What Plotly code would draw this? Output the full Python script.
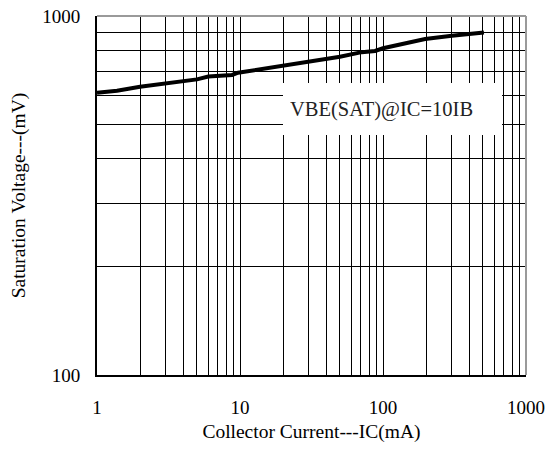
import plotly.graph_objects as go

# Data
ic_ma = [1, 1.38, 2, 3, 5, 6, 8.8, 9.7, 15, 20.6, 30, 39.3, 50, 71, 88, 100, 150, 197, 303, 407, 508]
vbe_mv = [611, 619, 635, 649, 666, 678, 685, 695, 714, 730, 745, 759, 770, 793, 799, 813, 840, 863, 881, 891, 899]

x_grid = [m * 10 ** d for d in range(3) for m in range(1, 10)] + [1000]
x_labels = ["1", "10", "100", "1000"]
x_text = [str(int(v)) if str(int(v)) in x_labels else "" for v in x_grid]
y_grid = [100, 200, 300, 400, 500, 600, 700, 800, 900, 1000]
y_labels = ["100", "1000"]
y_text = [str(v) if str(v) in y_labels else "" for v in y_grid]

label_text = "VBE(SAT)@IC=10IB"
x_title = "Collector Current---IC(mA)"
y_title = "Saturation Voltage---(mV)"

FONT = "Liberation Serif"

fig = go.Figure()
fig.add_trace(go.Scatter(
    x=ic_ma, y=vbe_mv, mode="lines",
    line=dict(color="black", width=4),
    showlegend=False, hoverinfo="skip",
))

fig.update_layout(
    width=547, height=452,
    margin=dict(l=97, r=21, t=16, b=77),
    paper_bgcolor="white", plot_bgcolor="white",
    font=dict(family=FONT, size=19, color="black"),
    xaxis=dict(
        type="log", range=[0, 3], automargin=False,
        tickvals=x_grid, ticktext=x_text,
        showgrid=True, gridcolor="black", gridwidth=1,
        showline=True, linecolor="black", linewidth=2,
        ticks="", ticklabelstandoff=14,
        zeroline=False,
        title=dict(text=x_title, font=dict(size=19.5), standoff=8),
    ),
    yaxis=dict(
        type="log", range=[2, 3], automargin=False,
        tickvals=y_grid, ticktext=y_text,
        showgrid=True, gridcolor="black", gridwidth=1,
        showline=True, linecolor="black", linewidth=2,
        ticks="", ticklabelstandoff=11,
        zeroline=False,
        title=dict(text=y_title, font=dict(size=19.5), standoff=11),
    ),
    shapes=[
        dict(type="line", xref="paper", yref="paper", x0=0, x1=1, y0=1, y1=1,
             line=dict(color="#9a9a9a", width=2)),
        dict(type="line", xref="paper", yref="paper", x0=1, x1=1, y0=0, y1=1,
             line=dict(color="#9a9a9a", width=2)),
    ],
    annotations=[
        dict(
            text=label_text, xref="x", yref="y",
            x=2.066, y=2.741, showarrow=False,
            bgcolor="white", borderpad=7, borderwidth=0,
            width=205, height=38, align="left", valign="middle",
            font=dict(family=FONT, size=20.5, color="#222222"),
        )
    ],
)

fig.write_html("out.html")
